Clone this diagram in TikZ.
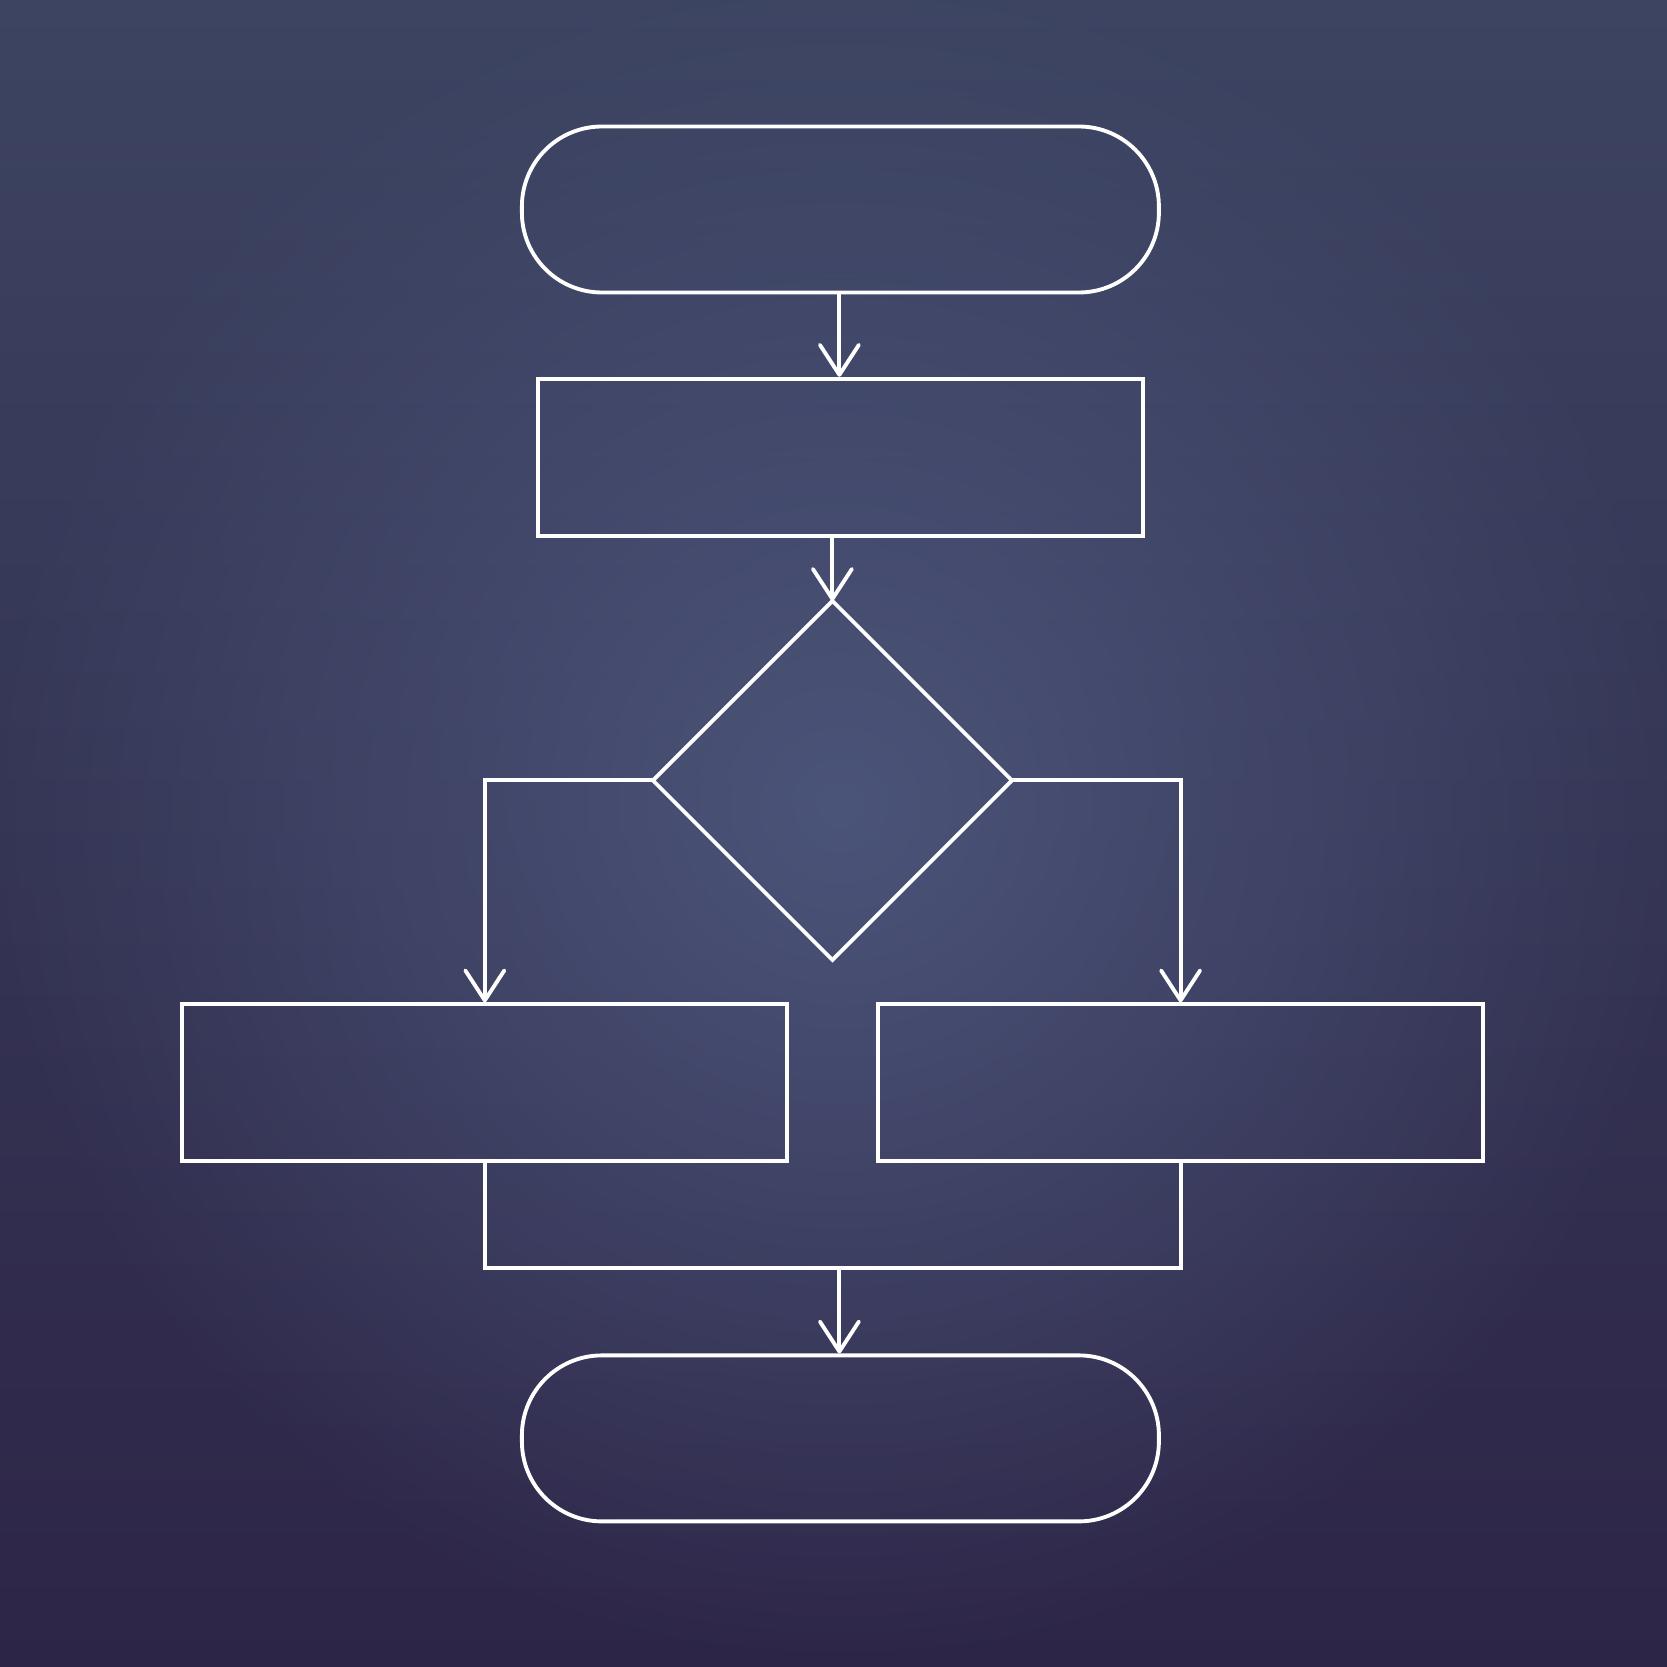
\documentclass[tikz,border=0pt]{standalone}
\usetikzlibrary{arrows.meta,shapes.geometric,positioning,fadings}
\definecolor{bgtop}{HTML}{3C4461}
\definecolor{bgbottom}{HTML}{2D2547}
\definecolor{bgglow}{HTML}{4B5479}
\tikzfading[name=glowfade, inner color=transparent!0, outer color=transparent!100]
\tikzset{
  line/.style={draw=white, line width=1.1pt},
  terminal/.style={line, rectangle, rounded corners=0.8cm, minimum width=6.37cm, minimum height=1.66cm, inner sep=0pt},
  process/.style={line, rectangle, minimum width=6.05cm, minimum height=1.57cm, inner sep=0pt},
  decision/.style={line, diamond, minimum width=3.59cm, minimum height=3.59cm, inner sep=0pt, outer sep=0pt},
  flow/.style={line, -{Straight Barb[length=3mm, width=3.9mm, round]}}
}
\begin{document}
\begin{tikzpicture}
  \useasboundingbox (0,0) rectangle (16.67,16.67);
  % background
  \begin{scope}
    \clip (0,0) rectangle (16.67,16.67);
    \fill[top color=bgtop, bottom color=bgbottom] (0,0) rectangle (16.67,16.67);
    \fill[bgglow, path fading=glowfade] (8.4,8.6) circle (8.6cm);
  \end{scope}

  % nodes
  \node[terminal] (start) at (8.404,14.575) {};
  \node[process] (proc) at (8.404,12.098) {};
  \node[decision] (dec) at (8.324,8.866) {};
  \node[process] (left) at (4.848,5.842) {};
  \node[process] (right) at (11.806,5.842) {};
  \node[terminal] (stop) at (8.404,2.286) {};

  \coordinate (merge) at (8.394,3.987);

  % connectors
  \draw[flow] (start.south -| merge) -- (proc.north -| merge);
  \draw[flow] (dec.north |- proc.south) -- (dec.north);
  \draw[flow] (dec.west) -| (left.north);
  \draw[flow] (dec.east) -| (right.north);
  \draw[line] (left.south) |- (merge) -| (right.south);
  \draw[flow] (merge) -- (merge |- stop.north);
\end{tikzpicture}
\end{document}
